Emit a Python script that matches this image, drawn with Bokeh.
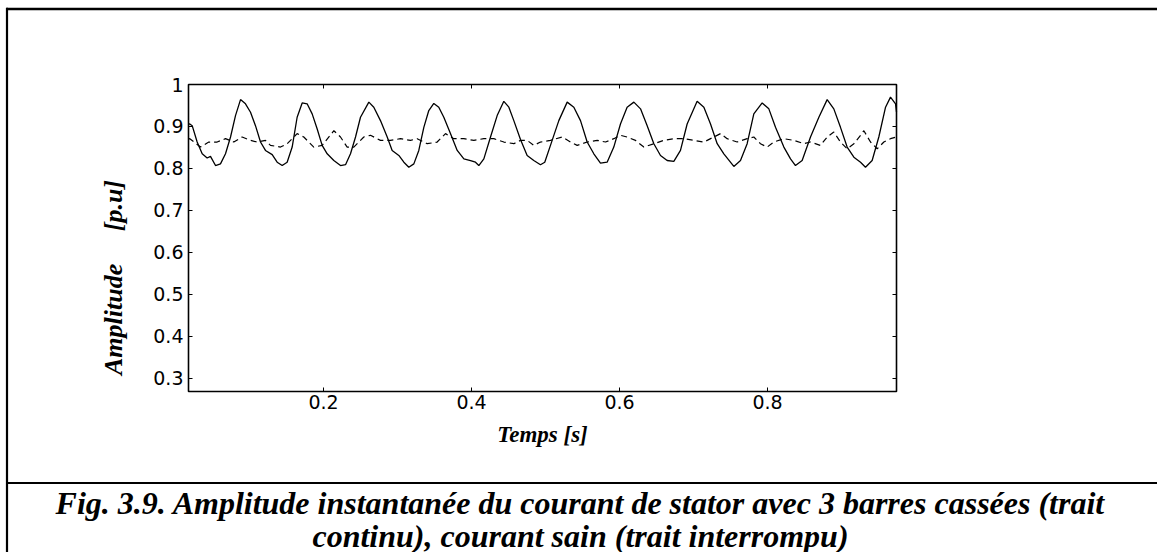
import math
from bokeh.plotting import figure
from bokeh.models import (LinearAxis, FixedTicker, Label, BoxAnnotation, Range1d)
from bokeh.embed import file_html
from bokeh.resources import INLINE

# ---------------- data ----------------
t_broken = [0.0176, 0.0194, 0.0226, 0.0293, 0.0361, 0.0428, 0.0473, 0.0541, 0.0608, 0.0676,
            0.0744, 0.0811, 0.0879, 0.0946, 0.1014, 0.1081, 0.1149, 0.1216, 0.1307, 0.1374,
            0.1442, 0.1509, 0.1577, 0.1644, 0.1712, 0.1779, 0.1847, 0.1915, 0.1982, 0.2050,
            0.2140, 0.2230, 0.2298, 0.2365, 0.2433, 0.2500, 0.2613, 0.2680, 0.2770, 0.2861,
            0.2928, 0.3018, 0.3086, 0.3153, 0.3221, 0.3288, 0.3356, 0.3423, 0.3491, 0.3558,
            0.3626, 0.3717, 0.3807, 0.3897, 0.3987, 0.4054, 0.4099, 0.4167, 0.4257, 0.4347,
            0.4437, 0.4505, 0.4572, 0.4662, 0.4752, 0.4842, 0.4932, 0.4990, 0.5090, 0.5180,
            0.5293, 0.5383, 0.5473, 0.5563, 0.5653, 0.5743, 0.5833, 0.5923, 0.6013, 0.6103,
            0.6194, 0.6284, 0.6374, 0.6464, 0.6554, 0.6644, 0.6734, 0.6824, 0.6914, 0.7049,
            0.7140, 0.7230, 0.7320, 0.7410, 0.7545, 0.7635, 0.7725, 0.7815, 0.7928, 0.8018,
            0.8108, 0.8221, 0.8311, 0.8378, 0.8468, 0.8581, 0.8694, 0.8806, 0.8896, 0.8986,
            0.9076, 0.9167, 0.9257, 0.9324, 0.9414, 0.9504, 0.9595, 0.9662, 0.9730, 0.9743]
amp_broken = [0.905, 0.906, 0.902, 0.863, 0.835, 0.825, 0.829, 0.807, 0.811, 0.835,
              0.875, 0.926, 0.964, 0.954, 0.934, 0.902, 0.863, 0.843, 0.833, 0.815,
              0.807, 0.815, 0.851, 0.922, 0.956, 0.954, 0.930, 0.894, 0.855, 0.835,
              0.819, 0.807, 0.809, 0.835, 0.875, 0.922, 0.958, 0.946, 0.914, 0.875,
              0.843, 0.831, 0.815, 0.803, 0.811, 0.843, 0.898, 0.938, 0.955, 0.946,
              0.922, 0.883, 0.843, 0.823, 0.819, 0.815, 0.807, 0.823, 0.875, 0.926,
              0.960, 0.946, 0.914, 0.869, 0.831, 0.819, 0.809, 0.815, 0.867, 0.914,
              0.958, 0.946, 0.914, 0.863, 0.835, 0.813, 0.815, 0.851, 0.906, 0.946,
              0.958, 0.942, 0.902, 0.859, 0.831, 0.819, 0.817, 0.843, 0.906, 0.960,
              0.946, 0.906, 0.859, 0.835, 0.805, 0.819, 0.859, 0.930, 0.956, 0.942,
              0.898, 0.851, 0.823, 0.807, 0.819, 0.875, 0.922, 0.964, 0.942, 0.898,
              0.851, 0.827, 0.815, 0.803, 0.819, 0.875, 0.946, 0.970, 0.954, 0.935]

t_healthy = [0.0176, 0.0194, 0.0338, 0.0450, 0.0563, 0.0676, 0.0788, 0.0901, 0.1013, 0.1103,
             0.1216, 0.1284, 0.1419, 0.1509, 0.1644, 0.1734, 0.1869, 0.1982, 0.2140, 0.2230,
             0.2320, 0.2410, 0.2545, 0.2635, 0.2770, 0.2905, 0.3041, 0.3176, 0.3266, 0.3401,
             0.3536, 0.3649, 0.3761, 0.3896, 0.4032, 0.4167, 0.4302, 0.4437, 0.4572, 0.4662,
             0.4752, 0.4842, 0.4932, 0.5067, 0.5225, 0.5338, 0.5428, 0.5563, 0.5698, 0.5811,
             0.5923, 0.6013, 0.6103, 0.6216, 0.6329, 0.6464, 0.6599, 0.6734, 0.6869, 0.7004,
             0.7140, 0.7275, 0.7365, 0.7455, 0.7590, 0.7725, 0.7815, 0.7905, 0.7995, 0.8086,
             0.8221, 0.8356, 0.8491, 0.8581, 0.8716, 0.8806, 0.8896, 0.8986, 0.9076, 0.9167,
             0.9257, 0.9302, 0.9392, 0.9482, 0.9572, 0.9662, 0.9743]
amp_healthy = [0.870, 0.871, 0.851, 0.863, 0.863, 0.871, 0.863, 0.875, 0.867, 0.863,
               0.867, 0.855, 0.851, 0.859, 0.883, 0.875, 0.851, 0.855, 0.890, 0.875,
               0.851, 0.851, 0.875, 0.879, 0.867, 0.867, 0.871, 0.867, 0.871, 0.859,
               0.863, 0.883, 0.871, 0.871, 0.867, 0.871, 0.871, 0.863, 0.859, 0.867,
               0.867, 0.855, 0.863, 0.867, 0.875, 0.863, 0.855, 0.863, 0.867, 0.863,
               0.871, 0.879, 0.875, 0.867, 0.851, 0.859, 0.867, 0.871, 0.871, 0.867,
               0.863, 0.875, 0.883, 0.871, 0.863, 0.871, 0.875, 0.859, 0.851, 0.863,
               0.871, 0.867, 0.859, 0.863, 0.855, 0.875, 0.887, 0.863, 0.847, 0.859,
               0.879, 0.890, 0.863, 0.847, 0.863, 0.871, 0.875]

x_ticks = [0.2, 0.4, 0.6, 0.8]
y_ticks = [0.3, 0.4, 0.5, 0.6, 0.7, 0.8, 0.9, 1.0]
x_label = "Temps [s]"
y_label = "Amplitude\u00a0\u00a0\u00a0\u00a0\u00a0[p.u]"
caption_1 = "Fig. 3.9. Amplitude instantanée du courant de stator avec 3 barres cassées (trait"
caption_2 = "continu), courant sain (trait interrompu)"

# chart box in data units
X0, X1 = 0.0176, 0.9743
Y0, Y1 = 0.269, 1.0

# ---------------- layout ----------------
W, H = 1157, 552
# pixel calibration of the chart box on the canvas
BOX_L, BOX_R, BOX_T, BOX_B = 188, 896, 84, 391
kx = (BOX_R - BOX_L) / (X1 - X0)
ky = (BOX_B - BOX_T) / (Y1 - Y0)

def dx(px):
    return X0 + (px - BOX_L) / kx

def dy(py):
    return Y1 - (py - BOX_T) / ky

# the frame covers the whole canvas; everything is drawn inside it
p = figure(width=W, height=H, output_backend="svg", toolbar_location=None,
           x_range=Range1d(dx(0), dx(W)), y_range=Range1d(dy(H), dy(0)),
           x_axis_location=None, y_axis_location=None,
           min_border=0, min_border_left=0, min_border_right=0,
           min_border_top=0, min_border_bottom=0,
           background_fill_color="white", border_fill_color="white")
p.xgrid.visible = False
p.ygrid.visible = False
p.outline_line_color = None

tick_font = "DejaVu Sans"
serif = "Liberation Serif"

def mk_axis(ticks, loc, labels=True):
    ax = LinearAxis(ticker=FixedTicker(ticks=ticks), fixed_location=loc,
                    major_tick_in=4, major_tick_out=0, minor_tick_line_color=None,
                    axis_line_color=None, major_tick_line_color="black",
                    major_tick_line_width=1,
                    major_label_text_font=tick_font, major_label_text_font_size="19px",
                    major_label_text_color="black")
    if not labels:
        ax.major_label_overrides = {t: "" for t in ticks}
    return ax

bottom = mk_axis(x_ticks, Y0)
bottom.major_label_standoff = 3
left = mk_axis(y_ticks, X0)
left.major_label_standoff = 5
left.major_label_overrides = {1.0: "1"}
top = mk_axis(x_ticks, Y1, labels=False)
right = mk_axis(y_ticks, X1, labels=False)
p.add_layout(bottom, "below")
p.add_layout(left, "left")
p.add_layout(top, "above")
p.add_layout(right, "right")

# chart box
p.add_layout(BoxAnnotation(left=X0, right=X1, bottom=Y0, top=Y1, fill_alpha=0,
                           line_color="black", line_width=1.6, line_alpha=1))

p.line(t_broken, amp_broken, line_color="black", line_width=1.3)
p.line(t_healthy, amp_healthy, line_color="black", line_width=1.2, line_dash="6 4")

# axis titles (screen units: x from canvas left, y from canvas bottom)
p.add_layout(Label(x=542, y=H - 434, x_units="screen", y_units="screen",
                   text=x_label, text_align="center", text_baseline="middle",
                   text_font=serif, text_font_style="bold italic",
                   text_font_size="23px", text_color="black"))
p.add_layout(Label(x=113, y=H - 277, x_units="screen", y_units="screen",
                   text=y_label, text_align="center", text_baseline="middle",
                   angle=math.pi / 2,
                   text_font=serif, text_font_style="bold italic",
                   text_font_size="26px", text_color="black"))

# outer figure frame: top edge, left edge, caption separator (no right edge),
# each as its own renderer
p.line([dx(6), dx(W)], [dy(8.5), dy(8.5)], line_color="black", line_width=2.6)
p.line([dx(6.5), dx(6.5)], [dy(7.2), dy(H)], line_color="black", line_width=2.2)
p.line([dx(6), dx(W)], [dy(482.5), dy(482.5)], line_color="black", line_width=2.0)

for txt, mid in [(caption_1, 502), (caption_2, 535)]:
    p.add_layout(Label(x=580, y=H - mid, x_units="screen", y_units="screen",
                       text=txt, text_align="center", text_baseline="middle",
                       text_font=serif, text_font_style="bold italic",
                       text_font_size="32px", text_color="black"))

open("out.html", "w").write(file_html(p, INLINE))
